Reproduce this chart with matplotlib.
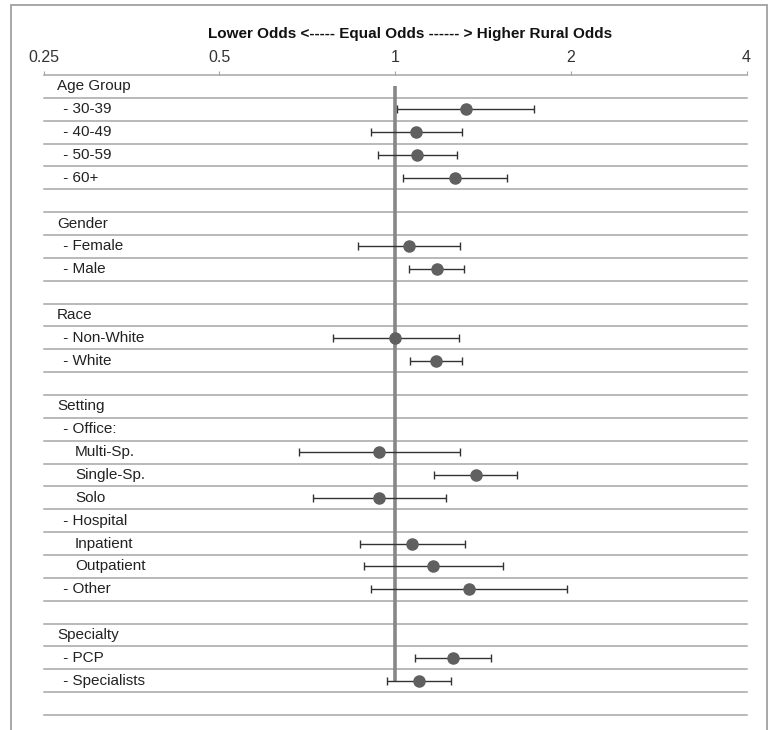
import numpy as np
import matplotlib.pyplot as plt
from matplotlib.patches import Rectangle
from matplotlib.transforms import blended_transform_factory

# Row labels, indent level and odds ratios with 95% CI (nan = no estimate)
labels = ["Age Group", " - 30-39", " - 40-49", " - 50-59", " - 60+", "",
          "Gender", " - Female", " - Male", "",
          "Race", " - Non-White", " - White", "",
          "Setting", " - Office:", "Multi-Sp.", "Single-Sp.", "Solo",
          " - Hospital", "Inpatient", "Outpatient", " - Other", "",
          "Specialty", " - PCP", " - Specialists", ""]
levels = [0, 1, 1, 1, 1, 0,
          0, 1, 1, 0,
          0, 1, 1, 0,
          0, 1, 2, 2, 2,
          1, 2, 2, 1, 0,
          0, 1, 1, 0]
odds = [np.nan, 1.323, 1.086, 1.092, 1.269, np.nan,
        np.nan, 1.057, 1.180, np.nan,
        np.nan, 1.000, 1.174, np.nan,
        np.nan, np.nan, 0.939, 1.376, 0.940,
        np.nan, 1.070, 1.163, 1.339, np.nan,
        np.nan, 1.256, 1.098, np.nan]
ci_low = [np.nan, 1.009, 0.910, 0.936, 1.031, np.nan,
          np.nan, 0.865, 1.058, np.nan,
          np.nan, 0.782, 1.061, np.nan,
          np.nan, np.nan, 0.685, 1.168, 0.723,
          np.nan, 0.872, 0.884, 0.910, np.nan,
          np.nan, 1.082, 0.970, np.nan]
ci_high = [np.nan, 1.730, 1.303, 1.279, 1.553, np.nan,
           np.nan, 1.292, 1.314, np.nan,
           np.nan, 1.286, 1.304, np.nan,
           np.nan, np.nan, 1.294, 1.620, 1.224,
           np.nan, 1.317, 1.531, 1.973, np.nan,
           np.nan, 1.462, 1.246, np.nan]
x_ticks = [0.25, 0.5, 1, 2, 4]
x_ticklabels = ["0.25", "0.5", "1", "2", "4"]
title = "Lower Odds <----- Equal Odds ------ > Higher Rural Odds"

plt.rcParams['font.family'] = ['Liberation Sans', 'DejaVu Sans']

W, H = 768, 730
fig = plt.figure(figsize=(W / 100, H / 100), dpi=100)
ax = fig.add_axes([43.5 / W, 15 / H, 703 / W, 640 / H])

n = len(labels)
rows = np.arange(n)
odds = np.array(odds)
ci_low = np.array(ci_low)
ci_high = np.array(ci_high)

grid_col = "#a6a6a6"

# horizontal separators between rows
for k in range(n):
    ax.axhline(k + 0.5, color=grid_col, lw=1.1, zorder=1, clip_on=False)

# reference line at OR = 1
ax.plot([1, 1], [0, n - 2], color="#878787", lw=2.6, zorder=2,
        solid_capstyle="butt")

has = ~np.isnan(odds)
ax.errorbar(odds[has], rows[has],
            xerr=[odds[has] - ci_low[has], ci_high[has] - odds[has]],
            fmt="none", ecolor="#333333", elinewidth=1.0, capsize=2.6,
            capthick=1.0, zorder=3)
ax.plot(odds[has], rows[has], "o", color="#606060", ms=8, mec="#606060",
        zorder=4)

ax.set_xscale("log", base=2)
ax.set_xlim(0.25, 4)
ax.set_ylim(n - 0.5, -0.5)
ax.set_xticks(x_ticks)
ax.set_xticklabels(x_ticklabels)
ax.minorticks_off()
ax.xaxis.set_ticks_position("top")
ax.tick_params(axis="x", direction="out", length=3, width=0.8,
               color=grid_col, labelsize=11.5, labelcolor="#333333", pad=4)
ax.set_yticks([])
for s in ["left", "right", "bottom"]:
    ax.spines[s].set_visible(False)
ax.spines["top"].set_color(grid_col)
ax.spines["top"].set_linewidth(1.1)

# row labels
trans = blended_transform_factory(fig.transFigure, ax.transData)
indent = {0: 57 / W, 1: 59 / W, 2: 75 / W}
for k, (lab, lev) in enumerate(zip(labels, levels)):
    if lab:
        ax.text(indent[lev], k, lab, transform=trans, ha="left", va="center",
                fontsize=11, color="#222222")

fig.text(410 / W, 1 - 34 / H, title, ha="center", va="center",
         fontsize=11, fontweight="bold", color="#111111")

# outer frame (runs off the bottom edge)
fig.patches.append(Rectangle((10.5 / W, -0.02), 756 / W, 1.02 - 5 / H,
                             transform=fig.transFigure, fill=False,
                             edgecolor="#a0a0a0", lw=1.3))

fig.savefig("out.png", dpi=100)
